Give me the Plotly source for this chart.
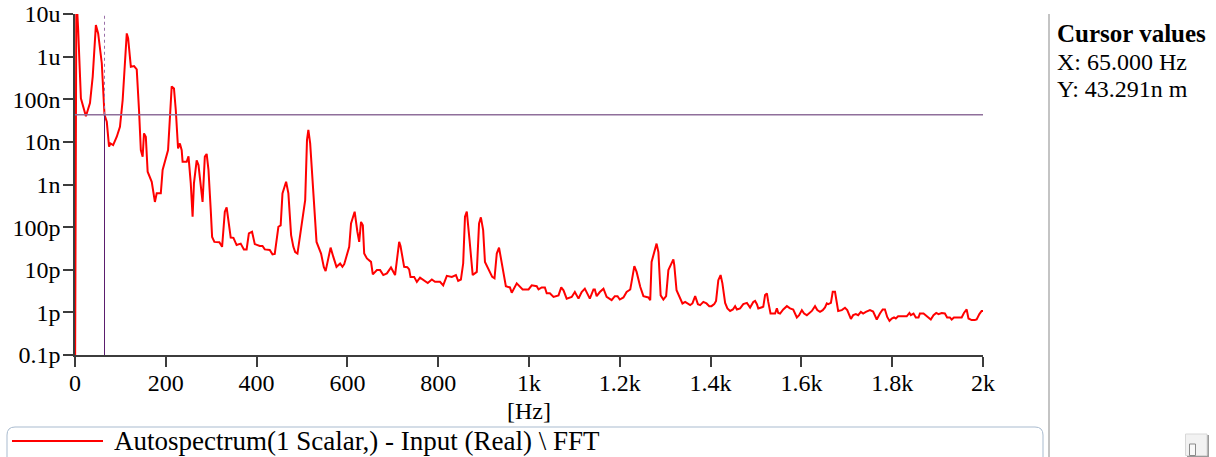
import plotly.graph_objects as go

# Autospectrum samples: frequency [Hz] and magnitude [m]
FREQ_HZ = [
    0, 3, 7, 13, 24, 33, 39, 46, 51, 59,
    65, 70, 75, 78, 84, 92, 99, 105, 109, 114,
    117, 123, 130, 136, 141, 145, 149, 152, 156, 160,
    169, 176, 180, 189, 193, 205, 213, 218, 222, 227,
    231, 235, 237, 246, 250, 255, 259, 262, 268, 272,
    281, 286, 290, 294, 299, 302, 307, 318, 324, 330,
    334, 338, 343, 349, 356, 365, 372, 378, 383, 390,
    396, 407, 413, 418, 429, 435, 440, 448, 453, 457,
    465, 470, 476, 481, 485, 490, 496, 503, 507, 511,
    514, 518, 525, 529, 532, 542, 548, 552, 558, 563,
    569, 576, 584, 589, 593, 598, 604, 608, 616, 622,
    626, 630, 634, 637, 643, 652, 656, 665, 672, 679,
    687, 696, 705, 714, 717, 725, 732, 736, 739, 747,
    753, 760, 767, 777, 786, 793, 804, 811, 819, 830,
    839, 844, 850, 855, 859, 863, 869, 876, 885, 890,
    894, 899, 903, 916, 919, 924, 929, 934, 942, 949,
    958, 962, 973, 986, 999, 1006, 1017, 1021, 1028, 1035,
    1039, 1046, 1054, 1065, 1071, 1076, 1083, 1094, 1101, 1109,
    1116, 1123, 1134, 1142, 1145, 1149, 1156, 1164, 1171, 1182,
    1189, 1195, 1200, 1208, 1215, 1223, 1226, 1232, 1237, 1245,
    1252, 1263, 1267, 1270, 1281, 1285, 1290, 1296, 1302, 1307,
    1318, 1320, 1325, 1333, 1338, 1344, 1355, 1360, 1366, 1372,
    1377, 1384, 1391, 1397, 1402, 1408, 1412, 1417, 1422, 1426,
    1432, 1437, 1443, 1449, 1454, 1458, 1465, 1472, 1480, 1487,
    1494, 1498, 1502, 1505, 1513, 1516, 1520, 1524, 1527, 1532,
    1542, 1546, 1549, 1553, 1560, 1568, 1575, 1582, 1590, 1595,
    1601, 1606, 1612, 1617, 1623, 1630, 1635, 1641, 1647, 1652,
    1656, 1659, 1665, 1669, 1674, 1681, 1689, 1696, 1701, 1709,
    1714, 1720, 1725, 1731, 1736, 1742, 1751, 1758, 1766, 1773,
    1779, 1784, 1789, 1794, 1799, 1804, 1808, 1813, 1821, 1832,
    1838, 1841, 1847, 1852, 1858, 1861, 1869, 1874, 1880, 1885,
    1891, 1897, 1902, 1909, 1916, 1921, 1927, 1931, 1936, 1946,
    1953, 1958, 1964, 1968, 1975, 1982, 1986, 1992, 1997, 2000,
]

AUTOSPEC_M = [
    1e-14, 3e-5, 4.2e-6, 1.05e-7, 4.0e-8, 8.1e-8, 3.4e-7, 5.5e-6, 3.5e-6, 7.0e-7,
    4.3291e-8, 2.96e-8, 7.7e-9, 9.2e-9, 8.4e-9, 1.32e-8, 2.26e-8, 9.6e-8, 4.8e-7, 3.5e-6,
    2.7e-6, 5.8e-7, 6.0e-7, 5.0e-7, 5.6e-8, 6.4e-9, 4.5e-9, 1.58e-8, 1.32e-8, 2.0e-9,
    1.16e-9, 3.9e-10, 6.2e-10, 6.2e-10, 2.2e-9, 6.4e-9, 2.0e-7, 1.8e-7, 5.6e-8, 7.0e-9,
    9.2e-9, 6.4e-9, 3.4e-9, 3.4e-9, 4.6e-9, 1.06e-9, 1.75e-10, 1.06e-9, 3.7e-9, 2.85e-9,
    3.9e-10, 4.5e-9, 5.2e-9, 2.2e-9, 2.5e-10, 5.9e-11, 4.5e-11, 4.4e-11, 3.45e-11, 2.3e-10,
    2.9e-10, 1.22e-10, 5.7e-11, 5.6e-11, 3.8e-11, 4.1e-11, 3.0e-11, 3.0e-11, 7.1e-11, 7.8e-11,
    4.0e-11, 3.6e-11, 3.6e-11, 3.0e-11, 2.9e-11, 2.3e-11, 2.35e-11, 1.02e-10, 1.1e-10, 6.2e-10,
    1.16e-9, 6.2e-10, 6.5e-11, 3.45e-11, 2.6e-11, 2.4e-11, 7.1e-11, 2.5e-10, 4.3e-10, 1.1e-8,
    1.9e-8, 9.2e-9, 4.7e-10, 1.22e-10, 4.5e-11, 2.4e-11, 1.17e-11, 9.3e-12, 2.0e-11, 3.3e-11,
    2.0e-11, 1.17e-11, 1.4e-11, 1.17e-11, 1.35e-11, 2.0e-11, 3.45e-11, 1.22e-10, 2.3e-10, 7.8e-11,
    4.5e-11, 1.33e-10, 1.1e-10, 2.4e-11, 1.84e-11, 1.53e-11, 7.8e-12, 9.8e-12, 9.8e-12, 7.5e-12,
    8.2e-12, 1.13e-11, 7.5e-12, 4.5e-11, 3.6e-11, 1.17e-11, 1.15e-11, 1.02e-11, 6.8e-12, 6.8e-12,
    5.2e-12, 6.5e-12, 5.7e-12, 4.9e-12, 5.9e-12, 5.2e-12, 5.2e-12, 4.3e-12, 7.2e-12, 6.8e-12,
    7.5e-12, 5.5e-12, 5.9e-12, 1.4e-11, 1.75e-10, 2.3e-10, 5.0e-11, 7.5e-12, 8.9e-12, 1.22e-10,
    1.7e-10, 8.5e-11, 1.53e-11, 8.2e-12, 6.8e-12, 6.3e-12, 2.4e-11, 3.3e-11, 9.8e-12, 4.1e-12,
    3.85e-12, 2.9e-12, 4.8e-12, 3.45e-12, 3.45e-12, 4.3e-12, 4.1e-12, 3.45e-12, 3.85e-12, 3.85e-12,
    2.8e-12, 2.8e-12, 2.3e-12, 2.5e-12, 3.85e-12, 3.3e-12, 2.1e-12, 2.3e-12, 3.0e-12, 2.1e-12,
    3.0e-12, 3.6e-12, 2.1e-12, 3.45e-12, 3.45e-12, 2.4e-12, 3.0e-12, 3.6e-12, 2.3e-12, 1.93e-12,
    2.4e-12, 2.4e-12, 2.0e-12, 2.24e-12, 3.0e-12, 3.45e-12, 5.2e-12, 1.22e-11, 8.9e-12, 4.0e-12,
    2.4e-12, 2.24e-12, 1.93e-12, 1.53e-11, 4.1e-11, 2.6e-11, 2.5e-12, 2.0e-12, 2.4e-12, 9.8e-12,
    1.75e-11, 1.28e-11, 3.3e-12, 2.1e-12, 1.62e-12, 1.77e-12, 1.48e-12, 1.62e-12, 2.4e-12, 1.56e-12,
    1.48e-12, 1.76e-12, 1.62e-12, 1.40e-12, 1.40e-12, 1.56e-12, 1.86e-12, 5.7e-12, 7.5e-12, 4.8e-12,
    1.67e-12, 1.24e-12, 1.08e-12, 1.17e-12, 1.40e-12, 1.17e-12, 1.24e-12, 1.56e-12, 1.67e-12, 1.30e-12,
    1.76e-12, 1.86e-12, 1.56e-12, 1.24e-12, 1.35e-12, 1.35e-12, 2.54e-12, 2.78e-12, 1.76e-12, 0.94e-12,
    0.94e-12, 1.24e-12, 0.97e-12, 0.94e-12, 1.17e-12, 1.40e-12, 1.24e-12, 1.17e-12, 0.76e-12, 0.86e-12,
    1.13e-12, 0.94e-12, 0.86e-12, 0.97e-12, 1.08e-12, 1.40e-12, 1.13e-12, 1.03e-12, 1.13e-12, 1.30e-12,
    1.62e-12, 1.56e-12, 1.67e-12, 3.03e-12, 3.03e-12, 1.08e-12, 1.13e-12, 1.28e-12, 1.13e-12, 0.70e-12,
    0.86e-12, 0.91e-12, 0.86e-12, 1.03e-12, 0.94e-12, 1.03e-12, 1.13e-12, 1.05e-12, 0.68e-12, 0.94e-12,
    1.17e-12, 1.17e-12, 0.78e-12, 0.63e-12, 0.72e-12, 0.76e-12, 0.72e-12, 0.81e-12, 0.81e-12, 0.81e-12,
    0.97e-12, 0.86e-12, 0.94e-12, 0.76e-12, 0.76e-12, 0.94e-12, 0.94e-12, 0.86e-12, 0.76e-12, 0.68e-12,
    0.86e-12, 0.97e-12, 0.91e-12, 0.97e-12, 0.94e-12, 0.76e-12, 0.76e-12, 0.68e-12, 0.76e-12, 0.76e-12,
    0.76e-12, 0.97e-12, 1.17e-12, 0.72e-12, 0.66e-12, 0.66e-12, 0.68e-12, 0.91e-12, 1.08e-12, 1.08e-12,
]
assert len(FREQ_HZ) == len(AUTOSPEC_M)

# Cursor position
CURSOR_X_HZ = 65.0
CURSOR_Y_M = 43.291e-9

# Axis ticks
X_TICKS = [0, 200, 400, 600, 800, 1000, 1200, 1400, 1600, 1800, 2000]
X_TICK_TEXT = ["0", "200", "400", "600", "800", "1k", "1.2k", "1.4k", "1.6k", "1.8k", "2k"]
Y_TICKS = [1e-13, 1e-12, 1e-11, 1e-10, 1e-9, 1e-8, 1e-7, 1e-6, 1e-5]
Y_TICK_TEXT = ["0.1p", "1p", "10p", "100p", "1n", "10n", "100n", "1u", "10u"]

SERIES_NAME = "Autospectrum(1 Scalar,) - Input (Real) \\ FFT"
CURSOR_TITLE = "<b>Cursor values</b>"
CURSOR_LINES = ["X: 65.000 Hz", "Y: 43.291n m"]

# Page geometry (pixels)
W, H = 1216, 457
PLOT_L, PLOT_R, PLOT_T, PLOT_B = 75, 983, 14, 355
FONT = "Liberation Serif, Times New Roman, serif"


def px(x):
    return (x - PLOT_L) / (PLOT_R - PLOT_L)


def py(y):
    return (PLOT_B - y) / (PLOT_B - PLOT_T)


fig = go.Figure()

fig.add_trace(go.Scatter(
    x=FREQ_HZ, y=AUTOSPEC_M, mode="lines", name=SERIES_NAME,
    line=dict(color="#ff0000", width=2), showlegend=False,
))

# Cursor cross-hair
fig.add_trace(go.Scatter(
    x=[CURSOR_X_HZ, CURSOR_X_HZ], y=[CURSOR_Y_M, 1e-5], mode="lines",
    line=dict(color="#9a6fa8", width=1, dash="dot"), showlegend=False, hoverinfo="skip",
))
fig.add_trace(go.Scatter(
    x=[CURSOR_X_HZ, CURSOR_X_HZ], y=[1e-13, CURSOR_Y_M], mode="lines",
    line=dict(color="#5b1e6e", width=1), showlegend=False, hoverinfo="skip",
))
fig.add_trace(go.Scatter(
    x=[0, 2000], y=[CURSOR_Y_M, CURSOR_Y_M], mode="lines",
    line=dict(color="#8f6f9b", width=1.6), showlegend=False, hoverinfo="skip",
))

axis_common = dict(
    showgrid=False, zeroline=False, showline=True, linecolor="#3c3c3c", linewidth=1.5,
    ticks="outside", ticklen=10, tickwidth=1.5, tickcolor="#3c3c3c",
    tickfont=dict(family=FONT, size=24, color="#000000"), automargin=False,
)

fig.update_xaxes(range=[0, 2000], tickvals=X_TICKS, ticktext=X_TICK_TEXT,
                 ticklabelstandoff=-5, **axis_common)
fig.update_yaxes(type="log", range=[-13, -5], tickvals=Y_TICKS, ticktext=Y_TICK_TEXT,
                 ticklabelstandoff=-2, **axis_common)

shapes = []
# Separator between plot and cursor panel
shapes.append(dict(type="line", xref="paper", yref="paper",
                   x0=px(1049), x1=px(1049), y0=py(14), y1=py(460),
                   line=dict(color="#c4c4c4", width=2)))

# Rounded legend frame
x0, x1, y0, y1, r = 7, 1043, 427, 470, 8
path = (f"M {px(x0 + r)},{py(y0)} L {px(x1 - r)},{py(y0)} "
        f"Q {px(x1)},{py(y0)} {px(x1)},{py(y0 + r)} L {px(x1)},{py(y1)} "
        f"L {px(x0)},{py(y1)} L {px(x0)},{py(y0 + r)} "
        f"Q {px(x0)},{py(y0)} {px(x0 + r)},{py(y0)} Z")
shapes.append(dict(type="path", xref="paper", yref="paper", path=path,
                   line=dict(color="#a9bbcf", width=1), fillcolor="rgba(0,0,0,0)"))
# Legend sample line
shapes.append(dict(type="line", xref="paper", yref="paper",
                   x0=px(12), x1=px(103), y0=py(441), y1=py(441),
                   line=dict(color="#ff0000", width=2)))

# Small button at bottom right
shapes.append(dict(type="rect", xref="paper", yref="paper",
                   x0=px(1187), x1=px(1209), y0=py(435), y1=py(457),
                   line=dict(width=0), fillcolor="#9a9a9a"))
shapes.append(dict(type="rect", xref="paper", yref="paper",
                   x0=px(1185.5), x1=px(1207), y0=py(434), y1=py(455.5),
                   line=dict(color="#d8d8d8", width=1), fillcolor="#f2f2f2"))
shapes.append(dict(type="rect", xref="paper", yref="paper",
                   x0=px(1189.5), x1=px(1195.5), y0=py(444), y1=py(455.5),
                   line=dict(color="#8a8a8a", width=1), fillcolor="#f8f8f8"))

annotations = []
annotations.append(dict(text="[Hz]", xref="paper", yref="paper", x=0.5, y=py(411),
                        xanchor="center", yanchor="middle", showarrow=False,
                        font=dict(family=FONT, size=24, color="#000000")))
annotations.append(dict(text=SERIES_NAME, xref="paper", yref="paper", x=px(112), y=py(441),
                        xanchor="left", yanchor="middle", showarrow=False,
                        font=dict(family=FONT, size=27, color="#000000")))
annotations.append(dict(text=CURSOR_TITLE, xref="paper", yref="paper", x=px(1055), y=py(34),
                        xanchor="left", yanchor="middle", showarrow=False,
                        font=dict(family=FONT, size=25, color="#000000")))
for txt, yc in zip(CURSOR_LINES, [62, 89]):
    annotations.append(dict(text=txt, xref="paper", yref="paper", x=px(1055), y=py(yc),
                            xanchor="left", yanchor="middle", showarrow=False,
                            font=dict(family=FONT, size=24, color="#000000")))

fig.update_layout(
    width=W, height=H, autosize=False,
    margin=dict(l=PLOT_L, r=W - PLOT_R, t=PLOT_T, b=H - PLOT_B, pad=0, autoexpand=False),
    paper_bgcolor="#ffffff", plot_bgcolor="#ffffff",
    shapes=shapes, annotations=annotations, showlegend=False,
)

fig.write_html("out.html")
